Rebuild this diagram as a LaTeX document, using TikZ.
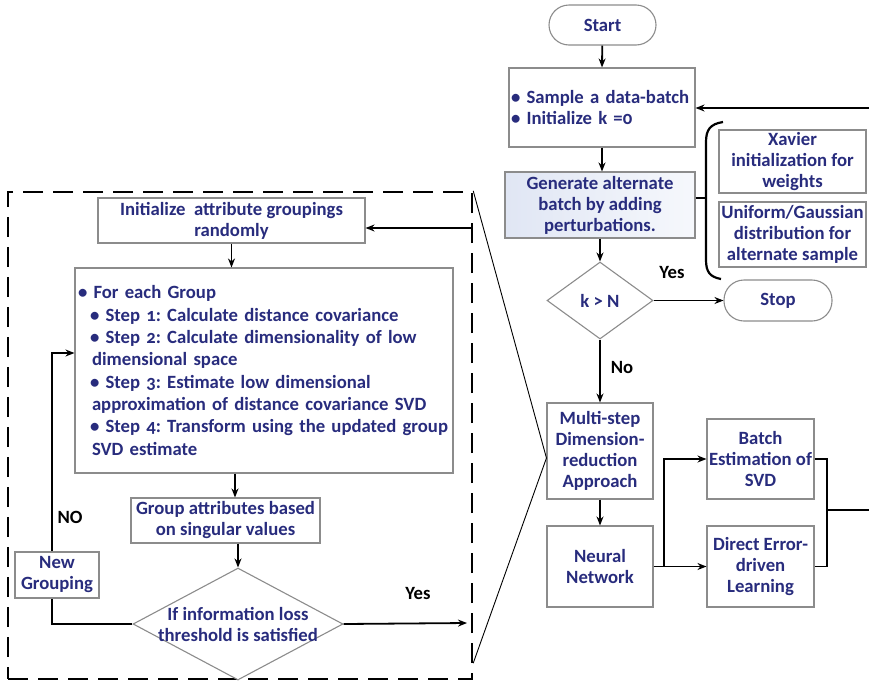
\documentclass[tikz,border=0pt]{standalone}
\usepackage{fontspec}
\setmainfont{Carlito}[Numbers=OldStyle]
\frenchspacing
\usetikzlibrary{arrows.meta,shapes.geometric,calc}
\definecolor{txt}{RGB}{40,44,125}
\definecolor{edge}{RGB}{140,140,140}
\definecolor{genleft}{RGB}{224,230,244}
\definecolor{genright}{RGB}{246,248,252}
\begin{document}
\begin{tikzpicture}[x=1pt,y=-1pt,
  every node/.style={font=\fontsize{18.7}{21}\selectfont\bfseries, text=txt},
  box/.style={draw=edge, line width=1.1pt, fill=white, inner sep=2pt, align=center},
  term/.style={box, rounded corners=20pt},
  dec/.style={draw=edge, line width=1.1pt, diamond, inner sep=0pt, fill=white},
  flow/.style={line width=1.8pt, -{Stealth[length=9pt,width=7pt]}},
  link/.style={line width=1.8pt},
  lbl/.style={text=black},
  frame/.style={draw=black, line width=2.4pt, dash pattern=on 20pt off 10pt}
]
\useasboundingbox (0,0) rectangle (869,683);

% ---------- main loop ----------
\node[term, minimum width=107, minimum height=40] (start) at (602.5,25) {Start};
\node[box, minimum width=186, minimum height=79, text width=182, align=left] (sample) at (602,107.5)
  {\textbullet\ Sample a data-batch\\\textbullet\ Initialize k =0};
\node[box, left color=genleft, right color=genright, minimum width=190, minimum height=66] (gen) at (600,205)
  {Generate alternate\\batch by adding\\perturbations.};
\node[box, minimum width=147, minimum height=63] (xavier) at (792.5,161.5)
  {Xavier\\initialization for\\weights};
\node[box, minimum width=147, minimum height=65] (unif) at (792.5,234.5)
  {Uniform/Gaussian\\distribution for\\alternate sample};
\node[dec, minimum width=106, minimum height=77] (kn) at (600,300.5) {k > N};
\node[term, minimum width=108, minimum height=41] (stop) at (778,300.5) {Stop};
\node[box, minimum width=106, minimum height=96] (multi) at (600,451)
  {Multi-step\\Dimension-\\reduction\\Approach};
\node[box, minimum width=106, minimum height=81] (neural) at (600,566.5) {Neural\\Network};
\node[box, minimum width=107, minimum height=80] (batch) at (760.5,459)
  {Batch\\Estimation of\\SVD};
\node[box, minimum width=107, minimum height=81] (direct) at (760.5,566.5)
  {Direct Error-\\driven\\Learning};

\node[lbl] (yes1) at (672,272) {Yes};
\node[lbl] (no1) at (622,367) {No};

\draw[flow] (start) -- (sample.south |- sample.north);
\draw[flow] (sample.south) -- (sample.south |- gen.north);
\draw[flow] (gen) -- (kn);
\draw[flow] (kn) -- (stop);
\draw[flow] (kn) -- (multi);
\draw[flow] (multi) -- (neural);

% split towards the two estimators
\coordinate (nj) at (664,566.5);
\draw[flow] (neural.east) -- (direct.west);
\draw[flow] (nj) |- (batch.west);

% merge and feedback towards the next batch
\coordinate (mj) at (827,510);
\coordinate (fbout) at (869,510);
\coordinate (fbin) at (869,108);
\draw[link] (batch.east) -- (batch.east -| mj) -- (direct.east -| mj) -- (direct.east);
\draw[link] (mj) -- (fbout);
\draw[flow] (fbin) -- (fbin -| sample.east);

% bracket grouping the two options
\coordinate (brk) at ($(gen.east)+(0,-7)$);
\draw[link] (brk) -- (706,198);
\draw[line width=2.2pt] (723,122) .. controls (710,124) and (706,130) .. (706,142)
  -- (706,260) .. controls (706,272) and (710,277) .. (721,279);

% ---------- detail of the dimension-reduction step ----------
\node[frame, minimum width=464, minimum height=487, inner sep=0pt] (zoomframe) at (240,435.5) {};

\node[box, minimum width=267, minimum height=45] (init) at (231.5,220.5)
  {Initialize\ \ attribute groupings\\randomly};
\node[box, minimum width=378, minimum height=205, text width=372, align=left,
      font=\fontsize{18.7}{22.3}\selectfont\bfseries] (each) at (264,370.5)
  {\textbullet\ For each Group\\
   \hspace*{12pt}\textbullet\ Step 1: Calculate distance covariance\\
   \hspace*{12pt}\textbullet\ Step 2: Calculate dimensionality of low\\
   \hspace*{14pt}dimensional space\\
   \hspace*{12pt}\textbullet\ Step 3: Estimate low dimensional\\
   \hspace*{14pt}approximation of distance covariance SVD\\
   \hspace*{12pt}\textbullet\ Step 4: Transform using the updated group\\
   \hspace*{14pt}SVD estimate};
\node[box, minimum width=189, minimum height=45] (group) at (225.5,520.5)
  {Group attributes based\\on singular values};
\node[dec, minimum width=210, minimum height=112] (info) at (238,624) {};
\node[align=center] (infotxt) at (info) {If information loss\\threshold is satisfied};

\coordinate (initin) at (472,228);
\coordinate (yesend) at (467,623);
\coordinate (noloop) at (52,353);
\coordinate (eg) at (235,0);
\coordinate (gi) at (238,0);

\draw[flow] (initin) -- (initin -| init.east);
\draw[flow] (init.south) -- (init.south |- each.north);
\draw[flow] (each.south -| eg) -- (group.north -| eg);
\draw[flow] (group.south -| gi) -- (info.north);
\draw[flow] (info.east) -- (yesend);
\draw[flow] (info.west) -| (noloop) -- (noloop -| each.west);

\node[box, minimum width=84, minimum height=46] (newg) at (57,575) {New\\Grouping};
\node[lbl] (yes2) at (418,593) {Yes};
\node[lbl] (no2) at (70,517) {NO};

% magnifier lines
\coordinate (mtip) at ($(multi.west)+(0,7)$);
\draw[line width=0.9pt] (zoomframe.north east) -- (mtip) -- ($(zoomframe.south east)+(0,-17)$);
\end{tikzpicture}
\end{document}
